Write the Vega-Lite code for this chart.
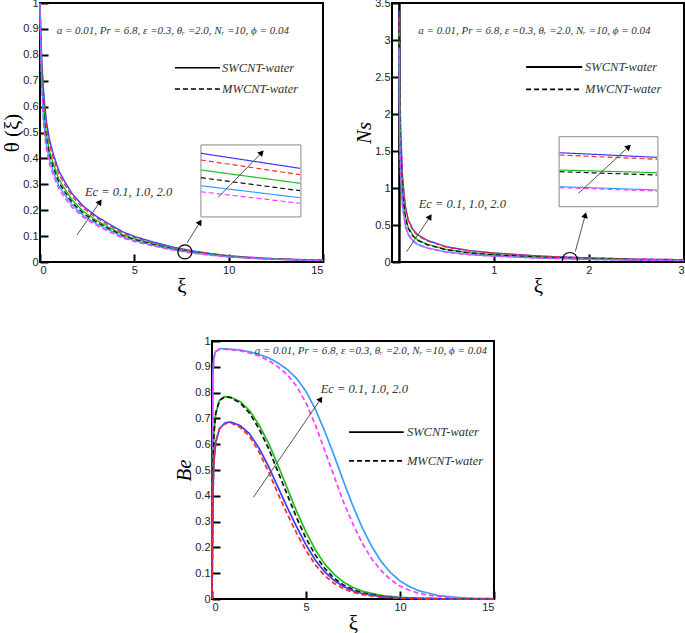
{
"$schema":"https://vega.github.io/schema/vega-lite/v6.json",
"background":"white",
"padding":{"left":0,"top":-4,"right":0,"bottom":0},
"config":{
 "view":{"stroke":"black","strokeWidth":2},
 "axis":{"domain":false,"grid":false,"ticks":true,"tickSize":-8,"tickWidth":2,"tickColor":"black","labelFont":"Liberation Sans","labelFontSize":11,"labelColor":"#222","labelPadding":10,"labelOverlap":false,"titleFont":"Liberation Serif","titleFontSize":21,"titleFontWeight":"normal","titleColor":"black","titlePadding":0},
 "axisX":{"titlePadding":0,"labelPadding":10}
},
"datasets":{
 "t":[
  {"s":"b","x":0,"y":1},{"s":"b","x":0.02,"y":0.958},{"s":"b","x":0.05,"y":0.861},{"s":"b","x":0.1,"y":0.77},{"s":"b","x":0.18,"y":0.671},{"s":"b","x":0.25,"y":0.605},{"s":"b","x":0.35,"y":0.539},{"s":"b","x":0.5,"y":0.473},{"s":"b","x":0.7,"y":0.418},{"s":"b","x":1,"y":0.352},{"s":"b","x":1.33,"y":0.308},{"s":"b","x":1.7,"y":0.264},{"s":"b","x":2.3,"y":0.215},{"s":"b","x":3,"y":0.176},{"s":"b","x":3.5,"y":0.154},{"s":"b","x":4.4,"y":0.116},{"s":"b","x":5,"y":0.099},{"s":"b","x":6,"y":0.077},{"s":"b","x":7,"y":0.058},{"s":"b","x":8,"y":0.044},{"s":"b","x":9,"y":0.033},{"s":"b","x":10,"y":0.024},{"s":"b","x":11,"y":0.019},{"s":"b","x":12,"y":0.014},{"s":"b","x":13,"y":0.011},{"s":"b","x":14,"y":0.009},{"s":"b","x":15,"y":0.007},
  {"s":"r","x":0,"y":1},{"s":"r","x":0.02,"y":0.947},{"s":"r","x":0.05,"y":0.845},{"s":"r","x":0.1,"y":0.75},{"s":"r","x":0.18,"y":0.647},{"s":"r","x":0.25,"y":0.583},{"s":"r","x":0.35,"y":0.519},{"s":"r","x":0.5,"y":0.456},{"s":"r","x":0.7,"y":0.403},{"s":"r","x":1,"y":0.339},{"s":"r","x":1.33,"y":0.297},{"s":"r","x":1.7,"y":0.254},{"s":"r","x":2.3,"y":0.207},{"s":"r","x":3,"y":0.17},{"s":"r","x":3.5,"y":0.148},{"s":"r","x":4.4,"y":0.111},{"s":"r","x":5,"y":0.095},{"s":"r","x":6,"y":0.074},{"s":"r","x":7,"y":0.056},{"s":"r","x":8,"y":0.042},{"s":"r","x":9,"y":0.032},{"s":"r","x":10,"y":0.023},{"s":"r","x":11,"y":0.018},{"s":"r","x":12,"y":0.014},{"s":"r","x":13,"y":0.011},{"s":"r","x":14,"y":0.008},{"s":"r","x":15,"y":0.006},
  {"s":"g","x":0,"y":1},{"s":"g","x":0.02,"y":0.93},{"s":"g","x":0.05,"y":0.82},{"s":"g","x":0.1,"y":0.72},{"s":"g","x":0.18,"y":0.61},{"s":"g","x":0.25,"y":0.55},{"s":"g","x":0.35,"y":0.49},{"s":"g","x":0.5,"y":0.43},{"s":"g","x":0.7,"y":0.38},{"s":"g","x":1,"y":0.32},{"s":"g","x":1.33,"y":0.28},{"s":"g","x":1.7,"y":0.24},{"s":"g","x":2.3,"y":0.195},{"s":"g","x":3,"y":0.16},{"s":"g","x":3.5,"y":0.14},{"s":"g","x":4.4,"y":0.105},{"s":"g","x":5,"y":0.09},{"s":"g","x":6,"y":0.07},{"s":"g","x":7,"y":0.053},{"s":"g","x":8,"y":0.04},{"s":"g","x":9,"y":0.03},{"s":"g","x":10,"y":0.022},{"s":"g","x":11,"y":0.017},{"s":"g","x":12,"y":0.013},{"s":"g","x":13,"y":0.01},{"s":"g","x":14,"y":0.008},{"s":"g","x":15,"y":0.006},
  {"s":"k","x":0,"y":1},{"s":"k","x":0.02,"y":0.919},{"s":"k","x":0.05,"y":0.804},{"s":"k","x":0.1,"y":0.7},{"s":"k","x":0.18,"y":0.586},{"s":"k","x":0.25,"y":0.528},{"s":"k","x":0.35,"y":0.47},{"s":"k","x":0.5,"y":0.413},{"s":"k","x":0.7,"y":0.365},{"s":"k","x":1,"y":0.307},{"s":"k","x":1.33,"y":0.269},{"s":"k","x":1.7,"y":0.23},{"s":"k","x":2.3,"y":0.187},{"s":"k","x":3,"y":0.154},{"s":"k","x":3.5,"y":0.134},{"s":"k","x":4.4,"y":0.101},{"s":"k","x":5,"y":0.086},{"s":"k","x":6,"y":0.067},{"s":"k","x":7,"y":0.051},{"s":"k","x":8,"y":0.038},{"s":"k","x":9,"y":0.029},{"s":"k","x":10,"y":0.021},{"s":"k","x":11,"y":0.016},{"s":"k","x":12,"y":0.012},{"s":"k","x":13,"y":0.01},{"s":"k","x":14,"y":0.008},{"s":"k","x":15,"y":0.006},
  {"s":"c","x":0,"y":1},{"s":"c","x":0.02,"y":0.908},{"s":"c","x":0.05,"y":0.787},{"s":"c","x":0.1,"y":0.68},{"s":"c","x":0.18,"y":0.561},{"s":"c","x":0.25,"y":0.506},{"s":"c","x":0.35,"y":0.451},{"s":"c","x":0.5,"y":0.396},{"s":"c","x":0.7,"y":0.35},{"s":"c","x":1,"y":0.294},{"s":"c","x":1.33,"y":0.258},{"s":"c","x":1.7,"y":0.221},{"s":"c","x":2.3,"y":0.179},{"s":"c","x":3,"y":0.147},{"s":"c","x":3.5,"y":0.129},{"s":"c","x":4.4,"y":0.097},{"s":"c","x":5,"y":0.083},{"s":"c","x":6,"y":0.064},{"s":"c","x":7,"y":0.049},{"s":"c","x":8,"y":0.037},{"s":"c","x":9,"y":0.028},{"s":"c","x":10,"y":0.02},{"s":"c","x":11,"y":0.016},{"s":"c","x":12,"y":0.012},{"s":"c","x":13,"y":0.009},{"s":"c","x":14,"y":0.007},{"s":"c","x":15,"y":0.006},
  {"s":"m","x":0,"y":1},{"s":"m","x":0.02,"y":0.897},{"s":"m","x":0.05,"y":0.771},{"s":"m","x":0.1,"y":0.66},{"s":"m","x":0.18,"y":0.537},{"s":"m","x":0.25,"y":0.484},{"s":"m","x":0.35,"y":0.431},{"s":"m","x":0.5,"y":0.378},{"s":"m","x":0.7,"y":0.334},{"s":"m","x":1,"y":0.282},{"s":"m","x":1.33,"y":0.246},{"s":"m","x":1.7,"y":0.211},{"s":"m","x":2.3,"y":0.172},{"s":"m","x":3,"y":0.141},{"s":"m","x":3.5,"y":0.123},{"s":"m","x":4.4,"y":0.092},{"s":"m","x":5,"y":0.079},{"s":"m","x":6,"y":0.062},{"s":"m","x":7,"y":0.047},{"s":"m","x":8,"y":0.035},{"s":"m","x":9,"y":0.026},{"s":"m","x":10,"y":0.019},{"s":"m","x":11,"y":0.015},{"s":"m","x":12,"y":0.011},{"s":"m","x":13,"y":0.009},{"s":"m","x":14,"y":0.007},{"s":"m","x":15,"y":0.005}
 ],
 "n":[
  {"s":"b","x":0.005,"y":3.4},{"s":"b","x":0.01,"y":2.684},{"s":"b","x":0.02,"y":1.83},{"s":"b","x":0.04,"y":1.159},{"s":"b","x":0.07,"y":0.756},{"s":"b","x":0.1,"y":0.573},{"s":"b","x":0.15,"y":0.439},{"s":"b","x":0.2,"y":0.366},{"s":"b","x":0.3,"y":0.293},{"s":"b","x":0.5,"y":0.207},{"s":"b","x":0.75,"y":0.153},{"s":"b","x":1,"y":0.122},{"s":"b","x":1.5,"y":0.079},{"s":"b","x":2,"y":0.055},{"s":"b","x":2.5,"y":0.039},{"s":"b","x":3,"y":0.031},
  {"s":"r","x":0.005,"y":3.3},{"s":"r","x":0.01,"y":2.618},{"s":"r","x":0.02,"y":1.785},{"s":"r","x":0.04,"y":1.131},{"s":"r","x":0.07,"y":0.738},{"s":"r","x":0.1,"y":0.559},{"s":"r","x":0.15,"y":0.428},{"s":"r","x":0.2,"y":0.357},{"s":"r","x":0.3,"y":0.286},{"s":"r","x":0.5,"y":0.202},{"s":"r","x":0.75,"y":0.149},{"s":"r","x":1,"y":0.119},{"s":"r","x":1.5,"y":0.077},{"s":"r","x":2,"y":0.054},{"s":"r","x":2.5,"y":0.038},{"s":"r","x":3,"y":0.03},
  {"s":"g","x":0.005,"y":3.1},{"s":"g","x":0.01,"y":2.2},{"s":"g","x":0.02,"y":1.5},{"s":"g","x":0.04,"y":0.95},{"s":"g","x":0.07,"y":0.62},{"s":"g","x":0.1,"y":0.47},{"s":"g","x":0.15,"y":0.36},{"s":"g","x":0.2,"y":0.3},{"s":"g","x":0.3,"y":0.24},{"s":"g","x":0.5,"y":0.17},{"s":"g","x":0.75,"y":0.125},{"s":"g","x":1,"y":0.1},{"s":"g","x":1.5,"y":0.065},{"s":"g","x":2,"y":0.045},{"s":"g","x":2.5,"y":0.032},{"s":"g","x":3,"y":0.025},
  {"s":"k","x":0.005,"y":3.05},{"s":"k","x":0.01,"y":2.134},{"s":"k","x":0.02,"y":1.455},{"s":"k","x":0.04,"y":0.922},{"s":"k","x":0.07,"y":0.601},{"s":"k","x":0.1,"y":0.456},{"s":"k","x":0.15,"y":0.349},{"s":"k","x":0.2,"y":0.291},{"s":"k","x":0.3,"y":0.233},{"s":"k","x":0.5,"y":0.165},{"s":"k","x":0.75,"y":0.121},{"s":"k","x":1,"y":0.097},{"s":"k","x":1.5,"y":0.063},{"s":"k","x":2,"y":0.044},{"s":"k","x":2.5,"y":0.031},{"s":"k","x":3,"y":0.024},
  {"s":"c","x":0.005,"y":2.9},{"s":"c","x":0.01,"y":1.76},{"s":"c","x":0.02,"y":1.2},{"s":"c","x":0.04,"y":0.76},{"s":"c","x":0.07,"y":0.496},{"s":"c","x":0.1,"y":0.376},{"s":"c","x":0.15,"y":0.288},{"s":"c","x":0.2,"y":0.24},{"s":"c","x":0.3,"y":0.192},{"s":"c","x":0.5,"y":0.136},{"s":"c","x":0.75,"y":0.1},{"s":"c","x":1,"y":0.08},{"s":"c","x":1.5,"y":0.052},{"s":"c","x":2,"y":0.036},{"s":"c","x":2.5,"y":0.026},{"s":"c","x":3,"y":0.02},
  {"s":"m","x":0.005,"y":2.85},{"s":"m","x":0.01,"y":1.716},{"s":"m","x":0.02,"y":1.17},{"s":"m","x":0.04,"y":0.741},{"s":"m","x":0.07,"y":0.484},{"s":"m","x":0.1,"y":0.367},{"s":"m","x":0.15,"y":0.281},{"s":"m","x":0.2,"y":0.234},{"s":"m","x":0.3,"y":0.187},{"s":"m","x":0.5,"y":0.133},{"s":"m","x":0.75,"y":0.098},{"s":"m","x":1,"y":0.078},{"s":"m","x":1.5,"y":0.051},{"s":"m","x":2,"y":0.035},{"s":"m","x":2.5,"y":0.025},{"s":"m","x":3,"y":0.02}
 ],
 "e":[
  {"s":"c","x":0,"y":0},{"s":"c","x":0.02,"y":0.4},{"s":"c","x":0.05,"y":0.88},{"s":"c","x":0.1,"y":0.94},{"s":"c","x":0.2,"y":0.96},{"s":"c","x":0.4,"y":0.97},{"s":"c","x":0.7,"y":0.97},{"s":"c","x":1,"y":0.968},{"s":"c","x":1.5,"y":0.965},{"s":"c","x":2,"y":0.958},{"s":"c","x":2.5,"y":0.948},{"s":"c","x":3,"y":0.935},{"s":"c","x":3.5,"y":0.915},{"s":"c","x":4,"y":0.89},{"s":"c","x":4.5,"y":0.855},{"s":"c","x":5,"y":0.805},{"s":"c","x":5.5,"y":0.735},{"s":"c","x":6,"y":0.65},{"s":"c","x":6.5,"y":0.555},{"s":"c","x":7,"y":0.455},{"s":"c","x":7.5,"y":0.36},{"s":"c","x":8,"y":0.275},{"s":"c","x":8.5,"y":0.203},{"s":"c","x":9,"y":0.145},{"s":"c","x":9.5,"y":0.102},{"s":"c","x":10,"y":0.07},{"s":"c","x":10.5,"y":0.048},{"s":"c","x":11,"y":0.032},{"s":"c","x":12,"y":0.014},{"s":"c","x":13,"y":0.006},{"s":"c","x":14,"y":0.002},{"s":"c","x":15,"y":0.001},
  {"s":"m","x":0,"y":0},{"s":"m","x":0.02,"y":0.38},{"s":"m","x":0.05,"y":0.87},{"s":"m","x":0.1,"y":0.935},{"s":"m","x":0.2,"y":0.958},{"s":"m","x":0.4,"y":0.968},{"s":"m","x":0.7,"y":0.968},{"s":"m","x":1,"y":0.966},{"s":"m","x":1.5,"y":0.962},{"s":"m","x":2,"y":0.954},{"s":"m","x":2.5,"y":0.942},{"s":"m","x":3,"y":0.925},{"s":"m","x":3.5,"y":0.9},{"s":"m","x":4,"y":0.87},{"s":"m","x":4.5,"y":0.825},{"s":"m","x":5,"y":0.76},{"s":"m","x":5.5,"y":0.675},{"s":"m","x":6,"y":0.575},{"s":"m","x":6.5,"y":0.475},{"s":"m","x":7,"y":0.375},{"s":"m","x":7.5,"y":0.29},{"s":"m","x":8,"y":0.215},{"s":"m","x":8.5,"y":0.155},{"s":"m","x":9,"y":0.11},{"s":"m","x":9.5,"y":0.075},{"s":"m","x":10,"y":0.05},{"s":"m","x":10.5,"y":0.034},{"s":"m","x":11,"y":0.022},{"s":"m","x":12,"y":0.009},{"s":"m","x":13,"y":0.004},{"s":"m","x":14,"y":0.002},{"s":"m","x":15,"y":0.001},
  {"s":"g","x":0,"y":0},{"s":"g","x":0.02,"y":0.2},{"s":"g","x":0.05,"y":0.5},{"s":"g","x":0.1,"y":0.64},{"s":"g","x":0.2,"y":0.72},{"s":"g","x":0.4,"y":0.77},{"s":"g","x":0.7,"y":0.785},{"s":"g","x":1,"y":0.782},{"s":"g","x":1.5,"y":0.765},{"s":"g","x":2,"y":0.73},{"s":"g","x":2.5,"y":0.675},{"s":"g","x":3,"y":0.605},{"s":"g","x":3.5,"y":0.52},{"s":"g","x":4,"y":0.43},{"s":"g","x":4.5,"y":0.34},{"s":"g","x":5,"y":0.26},{"s":"g","x":5.5,"y":0.19},{"s":"g","x":6,"y":0.135},{"s":"g","x":6.5,"y":0.095},{"s":"g","x":7,"y":0.065},{"s":"g","x":7.5,"y":0.045},{"s":"g","x":8,"y":0.03},{"s":"g","x":9,"y":0.014},{"s":"g","x":10,"y":0.006},{"s":"g","x":11,"y":0.003},{"s":"g","x":12,"y":0.001},{"s":"g","x":13,"y":0},{"s":"g","x":15,"y":0},
  {"s":"k","x":0,"y":0},{"s":"k","x":0.02,"y":0.2},{"s":"k","x":0.05,"y":0.5},{"s":"k","x":0.1,"y":0.64},{"s":"k","x":0.2,"y":0.72},{"s":"k","x":0.4,"y":0.77},{"s":"k","x":0.7,"y":0.785},{"s":"k","x":1,"y":0.78},{"s":"k","x":1.5,"y":0.76},{"s":"k","x":2,"y":0.72},{"s":"k","x":2.5,"y":0.66},{"s":"k","x":3,"y":0.585},{"s":"k","x":3.5,"y":0.495},{"s":"k","x":4,"y":0.405},{"s":"k","x":4.5,"y":0.315},{"s":"k","x":5,"y":0.235},{"s":"k","x":5.5,"y":0.17},{"s":"k","x":6,"y":0.118},{"s":"k","x":6.5,"y":0.08},{"s":"k","x":7,"y":0.054},{"s":"k","x":7.5,"y":0.036},{"s":"k","x":8,"y":0.024},{"s":"k","x":9,"y":0.01},{"s":"k","x":10,"y":0.004},{"s":"k","x":11,"y":0.002},{"s":"k","x":12,"y":0.001},{"s":"k","x":13,"y":0},{"s":"k","x":15,"y":0},
  {"s":"b","x":0,"y":0},{"s":"b","x":0.02,"y":0.15},{"s":"b","x":0.05,"y":0.4},{"s":"b","x":0.1,"y":0.53},{"s":"b","x":0.2,"y":0.61},{"s":"b","x":0.4,"y":0.66},{"s":"b","x":0.7,"y":0.683},{"s":"b","x":1,"y":0.686},{"s":"b","x":1.5,"y":0.672},{"s":"b","x":2,"y":0.64},{"s":"b","x":2.5,"y":0.585},{"s":"b","x":3,"y":0.515},{"s":"b","x":3.5,"y":0.435},{"s":"b","x":4,"y":0.355},{"s":"b","x":4.5,"y":0.28},{"s":"b","x":5,"y":0.21},{"s":"b","x":5.5,"y":0.15},{"s":"b","x":6,"y":0.105},{"s":"b","x":6.5,"y":0.072},{"s":"b","x":7,"y":0.048},{"s":"b","x":7.5,"y":0.032},{"s":"b","x":8,"y":0.021},{"s":"b","x":9,"y":0.009},{"s":"b","x":10,"y":0.004},{"s":"b","x":11,"y":0.002},{"s":"b","x":12,"y":0.001},{"s":"b","x":13,"y":0},{"s":"b","x":15,"y":0},
  {"s":"r","x":0,"y":0},{"s":"r","x":0.02,"y":0.15},{"s":"r","x":0.05,"y":0.4},{"s":"r","x":0.1,"y":0.53},{"s":"r","x":0.2,"y":0.61},{"s":"r","x":0.4,"y":0.66},{"s":"r","x":0.7,"y":0.68},{"s":"r","x":1,"y":0.682},{"s":"r","x":1.5,"y":0.665},{"s":"r","x":2,"y":0.63},{"s":"r","x":2.5,"y":0.57},{"s":"r","x":3,"y":0.495},{"s":"r","x":3.5,"y":0.41},{"s":"r","x":4,"y":0.33},{"s":"r","x":4.5,"y":0.255},{"s":"r","x":5,"y":0.188},{"s":"r","x":5.5,"y":0.132},{"s":"r","x":6,"y":0.09},{"s":"r","x":6.5,"y":0.06},{"s":"r","x":7,"y":0.04},{"s":"r","x":7.5,"y":0.026},{"s":"r","x":8,"y":0.017},{"s":"r","x":9,"y":0.007},{"s":"r","x":10,"y":0.003},{"s":"r","x":11,"y":0.001},{"s":"r","x":12,"y":0},{"s":"r","x":13,"y":0},{"s":"r","x":15,"y":0}
 ],
 "tin":[
  {"s":"b","x":8.53,"y":0.4197,"x2":13.78,"y2":0.3617},
  {"s":"r","x":8.53,"y":0.3938,"x2":13.78,"y2":0.3371},
  {"s":"g","x":8.53,"y":0.3552,"x2":13.78,"y2":0.3038},
  {"s":"k","x":8.53,"y":0.3255,"x2":13.78,"y2":0.2753},
  {"s":"c","x":8.53,"y":0.2944,"x2":13.78,"y2":0.2483},
  {"s":"m","x":8.53,"y":0.2712,"x2":13.78,"y2":0.2268}
 ],
 "nin":[
  {"s":"b","x":1.692,"y":1.477,"x2":2.716,"y2":1.414},
  {"s":"r","x":1.692,"y":1.446,"x2":2.716,"y2":1.388},
  {"s":"g","x":1.692,"y":1.243,"x2":2.716,"y2":1.207},
  {"s":"k","x":1.692,"y":1.22,"x2":2.716,"y2":1.176},
  {"s":"c","x":1.692,"y":1.018,"x2":2.716,"y2":0.973},
  {"s":"m","x":1.692,"y":1.005,"x2":2.716,"y2":0.959}
 ]
},
"vconcat":[
 {"hconcat":[
  {"width":283,"height":259,
   "encoding":{
    "x":{"field":"x","type":"quantitative","scale":{"domain":[0,15],"nice":false,"zero":false},"axis":{"values":[0,5,10,15],"format":"~g","title":"ξ","labelOverlap":false}},
    "y":{"field":"y","type":"quantitative","scale":{"domain":[0,1],"nice":false,"zero":false},"axis":{"values":[0,0.1,0.2,0.3,0.4,0.5,0.6,0.7,0.8,0.9,1],"format":"~g","title":"θ (ξ)","labelOverlap":false}}},
   "layer":[
    {"data":{"name":"t"},"mark":{"type":"line","strokeWidth":1.4},
     "encoding":{
      "color":{"field":"s","type":"nominal","scale":{"domain":["b","r","g","k","c","m"],"range":["#3a3aff","#ff2a2a","#22bb22","#111111","#3b9cff","#ff3cff"]},"legend":null},
      "strokeDash":{"field":"s","type":"nominal","scale":{"domain":["b","r","g","k","c","m"],"range":[[1,0],[5,3],[1,0],[5,3],[1,0],[5,3]]},"legend":null}}},
    {"data":{"values":[{"x":8.53,"x2":13.83,"y":0.452,"y2":0.174}]},"mark":{"type":"rect","fill":"white","stroke":"#8a8a8a","strokeWidth":1},
     "encoding":{"x2":{"field":"x2"},"y2":{"field":"y2"}}},
    {"data":{"name":"tin"},"mark":{"type":"rule","strokeWidth":1.2},
     "encoding":{"x2":{"field":"x2"},"y2":{"field":"y2"},"color":{"field":"s","type":"nominal","legend":null},"strokeDash":{"field":"s","type":"nominal","legend":null}}},
    {"data":{"values":[{"s":"g","x":7.15,"x2":9.54,"y":0.75},{"s":"k","x":7.15,"x2":9.54,"y":0.668}]},"mark":{"type":"rule","color":"black","strokeWidth":1.6},
     "encoding":{"x2":{"field":"x2"},"strokeDash":{"field":"s","type":"nominal","legend":null}}},
    {"data":{"values":[{"x":9.65,"y":0.75,"t":"SWCNT-water"},{"x":9.65,"y":0.668,"t":"MWCNT-water"}]},"mark":{"type":"text","align":"left","baseline":"middle","font":"Liberation Serif","fontStyle":"italic","fontSize":12.5,"color":"#333"},
     "encoding":{"text":{"field":"t"}}},
    {"data":{"values":[{"x":0.885,"y":0.893,"t":"a = 0.01, Pr = 6.8, ε =0.3, θᵣ =2.0, Nᵣ =10, ϕ = 0.04"}]},"mark":{"type":"text","align":"left","baseline":"middle","font":"Liberation Serif","fontStyle":"italic","fontSize":11,"color":"#333"},
     "encoding":{"text":{"field":"t"}}},
    {"data":{"values":[{"x":2.38,"y":0.27,"t":"Ec = 0.1, 1.0, 2.0"}]},"mark":{"type":"text","align":"left","baseline":"middle","font":"Liberation Serif","fontStyle":"italic","fontSize":12.5,"color":"#333"},
     "encoding":{"text":{"field":"t"}}},
    {"data":{"values":[{"x":1.96,"y":0.104,"x2":3.18,"y2":0.232},{"x":7.79,"y":0.073,"x2":8.48,"y2":0.154},{"x":9.45,"y":0.25,"x2":11.75,"y2":0.422}]},"mark":{"type":"rule","color":"#555","strokeWidth":1},
     "encoding":{"x2":{"field":"x2"},"y2":{"field":"y2"}}},
    {"data":{"values":[{"x":3.18,"y":0.232,"a":35},{"x":8.48,"y":0.154,"a":32},{"x":11.75,"y":0.422,"a":44}]},"mark":{"type":"point","shape":"triangle-up","filled":true,"color":"black","size":45,"opacity":1},
     "encoding":{"angle":{"field":"a","type":"quantitative","scale":null}}},
    {"data":{"values":[{"x":7.68,"y":0.039}]},"mark":{"type":"point","shape":"circle","filled":false,"color":"black","strokeWidth":1.2,"size":196,"opacity":1}}
   ]},
  {"width":292,"height":259,
   "encoding":{
    "x":{"field":"x","type":"quantitative","scale":{"domain":[-0.07,3],"nice":false,"zero":false},"axis":{"values":[1,2,3],"format":"~g","title":"ξ","labelOverlap":false}},
    "y":{"field":"y","type":"quantitative","scale":{"domain":[0,3.5],"nice":false,"zero":false},"axis":{"values":[0,0.5,1,1.5,2,2.5,3,3.5],"format":"~g","title":"Ns","titleFontStyle":"italic","labelOverlap":false}}},
   "layer":[
    {"data":{"values":[{"x":0.008,"y":0,"y2":3.5}]},"mark":{"type":"rule","color":"black","strokeWidth":2.5},
     "encoding":{"y2":{"field":"y2"}}},
    {"data":{"name":"n"},"mark":{"type":"line","strokeWidth":1.4},
     "encoding":{
      "color":{"field":"s","type":"nominal","scale":{"domain":["b","r","g","k","c","m"],"range":["#3a3aff","#ff2a2a","#22bb22","#111111","#3b9cff","#ff3cff"]},"legend":null},
      "strokeDash":{"field":"s","type":"nominal","scale":{"domain":["b","r","g","k","c","m"],"range":[[1,0],[5,3],[1,0],[5,3],[1,0],[5,3]]},"legend":null}}},
    {"data":{"values":[{"x":1.687,"x2":2.726,"y":1.693,"y2":0.747}]},"mark":{"type":"rect","fill":"white","stroke":"#8a8a8a","strokeWidth":1},
     "encoding":{"x2":{"field":"x2"},"y2":{"field":"y2"}}},
    {"data":{"name":"nin"},"mark":{"type":"rule","strokeWidth":1.2},
     "encoding":{"x2":{"field":"x2"},"y2":{"field":"y2"},"color":{"field":"s","type":"nominal","legend":null},"strokeDash":{"field":"s","type":"nominal","legend":null}}},
    {"data":{"values":[{"s":"g","x":1.34,"x2":1.93,"y":2.635},{"s":"k","x":1.34,"x2":1.93,"y":2.334}]},"mark":{"type":"rule","color":"black","strokeWidth":1.8},
     "encoding":{"x2":{"field":"x2"},"strokeDash":{"field":"s","type":"nominal","legend":null}}},
    {"data":{"values":[{"x":1.96,"y":2.635,"t":"SWCNT-water"},{"x":1.96,"y":2.334,"t":"MWCNT-water"}]},"mark":{"type":"text","align":"left","baseline":"middle","font":"Liberation Serif","fontStyle":"italic","fontSize":12.5,"color":"#333"},
     "encoding":{"text":{"field":"t"}}},
    {"data":{"values":[{"x":0.207,"y":3.126,"t":"a = 0.01, Pr = 6.8, ε =0.3, θᵣ =2.0, Nᵣ =10, ϕ = 0.04"}]},"mark":{"type":"text","align":"left","baseline":"middle","font":"Liberation Serif","fontStyle":"italic","fontSize":11,"color":"#333"},
     "encoding":{"text":{"field":"t"}}},
    {"data":{"values":[{"x":0.21,"y":0.784,"t":"Ec = 0.1, 1.0, 2.0"}]},"mark":{"type":"text","align":"left","baseline":"middle","font":"Liberation Serif","fontStyle":"italic","fontSize":12.5,"color":"#333"},
     "encoding":{"text":{"field":"t"}}},
    {"data":{"values":[{"x":0.084,"y":0.139,"x2":0.33,"y2":0.612},{"x":1.857,"y":0.139,"x2":1.962,"y2":0.635},{"x":1.891,"y":0.928,"x2":2.418,"y2":1.558}]},"mark":{"type":"rule","color":"#555","strokeWidth":1},
     "encoding":{"x2":{"field":"x2"},"y2":{"field":"y2"}}},
    {"data":{"values":[{"x":0.33,"y":0.612,"a":33},{"x":1.962,"y":0.635,"a":15},{"x":2.418,"y":1.558,"a":47}]},"mark":{"type":"point","shape":"triangle-up","filled":true,"color":"black","size":45,"opacity":1},
     "encoding":{"angle":{"field":"a","type":"quantitative","scale":null}}},
    {"data":{"values":[{"x":1.8,"y":0.027}]},"mark":{"type":"point","shape":"circle","filled":false,"color":"black","strokeWidth":1.2,"size":225,"opacity":1,"clip":true}}
   ]}
 ],"spacing":25},
 {"hconcat":[
  {"width":132,"height":10,"data":{"values":[]},"mark":{"type":"rule"},"encoding":{},"view":{"stroke":null}},
  {"width":282,"height":258,
   "encoding":{
    "x":{"field":"x","type":"quantitative","scale":{"domain":[0,15],"nice":false,"zero":false},"axis":{"values":[0,5,10,15],"format":"~g","title":"ξ","labelOverlap":false}},
    "y":{"field":"y","type":"quantitative","scale":{"domain":[0,1],"nice":false,"zero":false},"axis":{"values":[0,0.1,0.2,0.3,0.4,0.5,0.6,0.7,0.8,0.9,1],"format":"~g","title":"Be","titleFontStyle":"italic","labelOverlap":false}}},
   "layer":[
    {"data":{"name":"e"},"mark":{"type":"line","strokeWidth":1.7},
     "encoding":{
      "color":{"field":"s","type":"nominal","scale":{"domain":["b","r","g","k","c","m"],"range":["#3a3aff","#ee2222","#22bb22","#111111","#3b9cff","#ff3cff"]},"legend":null},
      "strokeDash":{"field":"s","type":"nominal","scale":{"domain":["b","r","g","k","c","m"],"range":[[1,0],[6,3],[1,0],[6,3],[1,0],[6,3]]},"legend":null}}},
    {"data":{"values":[{"s":"g","x":7.29,"x2":10.2,"y":0.647},{"s":"k","x":7.29,"x2":10.2,"y":0.535}]},"mark":{"type":"rule","color":"black","strokeWidth":1.8},
     "encoding":{"x2":{"field":"x2"},"strokeDash":{"field":"s","type":"nominal","legend":null}}},
    {"data":{"values":[{"x":10.37,"y":0.647,"t":"SWCNT-water"},{"x":10.37,"y":0.535,"t":"MWCNT-water"}]},"mark":{"type":"text","align":"left","baseline":"middle","font":"Liberation Serif","fontStyle":"italic","fontSize":12.5,"color":"#333"},
     "encoding":{"text":{"field":"t"}}},
    {"data":{"values":[{"x":2.27,"y":0.962,"t":"a = 0.01, Pr = 6.8, ε =0.3, θᵣ =2.0, Nᵣ =10, ϕ = 0.04"}]},"mark":{"type":"text","align":"left","baseline":"middle","font":"Liberation Serif","fontStyle":"italic","fontSize":11,"color":"#333"},
     "encoding":{"text":{"field":"t"}}},
    {"data":{"values":[{"x":5.78,"y":0.814,"t":"Ec = 0.1, 1.0, 2.0"}]},"mark":{"type":"text","align":"left","baseline":"middle","font":"Liberation Serif","fontStyle":"italic","fontSize":12.5,"color":"#333"},
     "encoding":{"text":{"field":"t"}}},
    {"data":{"values":[{"x":2.2,"y":0.394,"x2":5.78,"y2":0.775}]},"mark":{"type":"rule","color":"#555","strokeWidth":1},
     "encoding":{"x2":{"field":"x2"},"y2":{"field":"y2"}}},
    {"data":{"values":[{"x":5.78,"y":0.775,"a":34}]},"mark":{"type":"point","shape":"triangle-up","filled":true,"color":"black","size":45,"opacity":1},
     "encoding":{"angle":{"field":"a","type":"quantitative","scale":null}}}
   ]}
 ],"spacing":0}
],
"spacing":37
}
